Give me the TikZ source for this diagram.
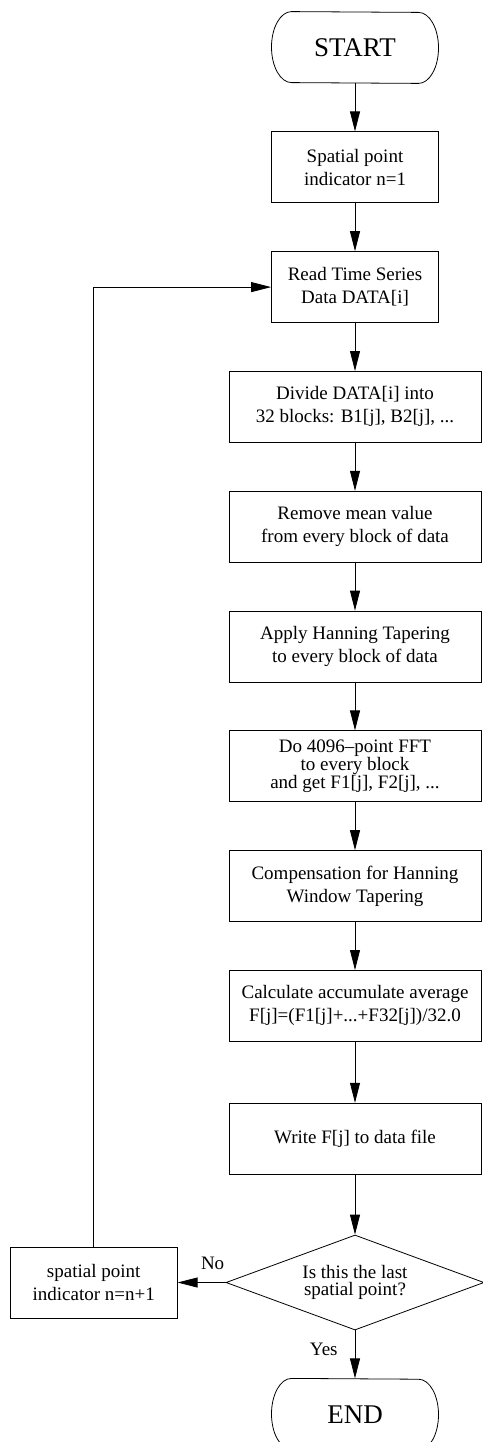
\documentclass[tikz,border=0pt]{standalone}
\usepackage{fontspec}
\setmainfont{Liberation Serif}
\usepackage{tikz}
\usetikzlibrary{positioning, shapes.geometric, arrows.meta}

\newcommand\termoutline[1]{%
  \draw ([xshift=-63.5pt]#1.north) arc[start angle=90, end angle=270, x radius=20pt, y radius=35.5pt]
    -- ([xshift=63.5pt]#1.south) arc[start angle=-90, end angle=90, x radius=20pt, y radius=35.5pt] -- cycle;}

\begin{document}
\begin{tikzpicture}[
  node distance=48pt,
  line width=0.8pt,
  every node/.style={font=\fontsize{19}{23}\selectfont},
  box/.style={draw, align=center, inner sep=2pt, minimum width=167pt, minimum height=71pt},
  widebox/.style={box, minimum width=252pt},
  term/.style={align=center, minimum width=167pt, minimum height=71pt, font=\fontsize{27}{30}\selectfont},
  test/.style={draw, diamond, aspect=2.7, align=center, inner sep=0pt, minimum width=258pt, minimum height=95pt, font=\fontsize{19}{17}\selectfont},
  flow/.style={-{Triangle[length=20pt, width=10pt]}}
]
\useasboundingbox (0,0) rectangle (482pt,-1442pt);
\node[term] (start) at (355pt,-47.5pt) {START};
\node[box, below=of start] (init) {Spatial point\\indicator n=1};
\node[box, below=of init] (read) {Read Time Series\\Data DATA[i]};
\node[widebox, below=of read] (divide) {Divide DATA[i] into\\32 blocks: B1[j], B2[j], ...};
\node[widebox, below=of divide] (mean) {Remove mean value\\from every block of data};
\node[widebox, below=of mean] (taper) {Apply Hanning Tapering\\to every block of data};
\node[widebox, below=of taper, font=\fontsize{19}{17}\selectfont] (fft) {Do 4096--point FFT\\to every block\\and get F1[j], F2[j], ...};
\node[widebox, below=of fft] (comp) {Compensation for Hanning\\Window Tapering};
\node[widebox, below=of comp] (avg) {Calculate accumulate average\\F[j]=(F1[j]+...+F32[j])/32.0};
\node[widebox, below=61pt of avg] (write) {Write F[j] to data file};
\node[test, below=60pt of write] (last) {Is this the last\\spatial point?};
\node[term, below=of last] (end) {END};
\node[box, left=of last] (next) {spatial point\\indicator n=n+1};

% terminals
\termoutline{start}
\termoutline{end}

% main flow
\draw[flow] (start) -- (init);
\draw[flow] (init) -- (read);
\draw[flow] (read) -- (divide);
\draw[flow] (divide) -- (mean);
\draw[flow] (mean) -- (taper);
\draw[flow] (taper) -- (fft);
\draw[flow] (fft) -- (comp);
\draw[flow] (comp) -- (avg);
\draw[flow] (avg) -- (write);
\draw[flow] (write) -- (last);
\draw[flow] (last) -- node[pos=0.4, left=17pt, inner sep=0pt] (yes) {Yes} (end);
\draw[flow] (last) -- node[pos=0.27, above=12pt, inner sep=0pt] (no) {No} (next);

% loop back
\draw[flow] (next) |- (read);
\end{tikzpicture}
\end{document}
